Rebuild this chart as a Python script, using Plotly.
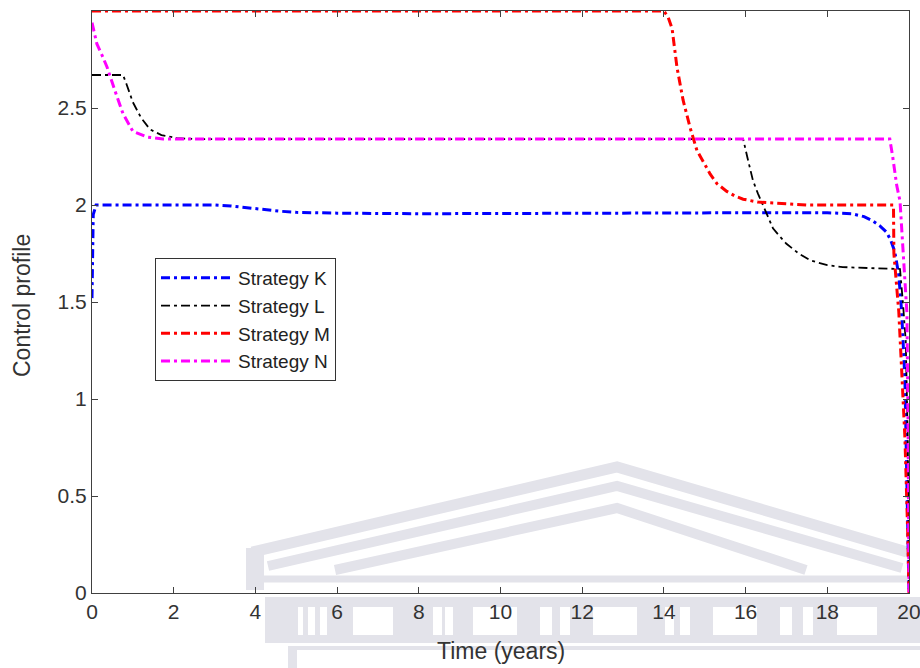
import plotly.graph_objects as go

# ---------------- data ----------------
x_K = [0, 0.03, 0.1, 1.0, 2.0, 3.0, 3.4, 3.8, 4.2, 4.6, 5.0, 6.0, 8.0, 10.0, 12.0, 14.0, 16.0, 18.0,
       18.6, 18.9, 19.1, 19.3, 19.45, 19.55, 19.65, 19.75, 19.82, 19.9, 19.95, 20.0]
y_K = [1.52, 1.95, 2.0, 2.0, 2.0, 2.0, 1.995, 1.985, 1.975, 1.968, 1.962, 1.958, 1.955, 1.957, 1.958,
       1.96, 1.96, 1.96, 1.955, 1.94, 1.92, 1.89, 1.86, 1.82, 1.76, 1.64, 1.45, 1.1, 0.6, 0.0]

x_L = [0, 0.76, 0.85, 1.0, 1.2, 1.42, 1.7, 2.08, 2.5, 3.0, 8.0, 15.94, 16.05, 16.18, 16.3, 16.43,
       16.55, 16.67, 16.83, 17.0, 17.3, 17.58, 18.0, 18.38, 19.0, 19.78, 19.85, 19.92, 19.97, 20.0]
y_L = [2.67, 2.67, 2.62, 2.53, 2.45, 2.39, 2.36, 2.345, 2.34, 2.34, 2.34, 2.34, 2.24, 2.126, 2.06, 2.0,
       1.94, 1.88, 1.84, 1.80, 1.75, 1.715, 1.69, 1.68, 1.675, 1.67, 1.5, 1.3, 0.8, 0.0]

x_M = [0, 14.0, 14.1, 14.2, 14.32, 14.47, 14.64, 14.81, 15.0, 15.13, 15.3, 15.54, 15.75, 15.94, 16.3,
       16.67, 17.5, 18.5, 19.62, 19.63, 19.75, 19.82, 19.9, 19.97, 20.0]
y_M = [3.0, 3.0, 2.97, 2.91, 2.71, 2.54, 2.40, 2.28, 2.21, 2.16, 2.11, 2.07, 2.045, 2.03, 2.015,
       2.01, 2.0, 2.0, 2.0, 1.75, 1.45, 1.15, 0.8, 0.3, 0.0]

x_N = [0, 0.12, 0.25, 0.37, 0.56, 0.76, 1.0, 1.35, 1.74, 2.2, 3.0, 10.0, 19.53, 19.6, 19.7, 19.78,
       19.85, 19.95, 19.98, 20.0]
y_N = [2.94, 2.83, 2.77, 2.71, 2.59, 2.47, 2.38, 2.35, 2.34, 2.34, 2.34, 2.34, 2.34, 2.25, 2.1, 2.02,
       1.78, 1.44, 0.8, 0.0]

series_names = ["Strategy K", "Strategy L", "Strategy M", "Strategy N"]
x_ticks = [0, 2, 4, 6, 8, 10, 12, 14, 16, 18, 20]
y_ticks = [0, 0.5, 1, 1.5, 2, 2.5]
y_tick_text = ["0", "0.5", "1", "1.5", "2", "2.5"]
x_title = "Time (years)"
y_title = "Control profile"

# ---------------- figure ----------------
W, H = 920, 668
L_, R_, T_, B_ = 92, 11, 11, 75
PW, PH = W - L_ - R_, H - T_ - B_

FONT = "Liberation Sans, Arial, sans-serif"
DASH = "9px,4px,3px,4px"

fig = go.Figure()
styles = [("#0000FF", 3.0), ("#000000", 1.8), ("#FF0000", 3.0), ("#FF00FF", 3.0)]
for (xs, ys), name, (col, w) in zip([(x_K, y_K), (x_L, y_L), (x_M, y_M), (x_N, y_N)], series_names, styles):
    fig.add_trace(go.Scatter(x=xs, y=ys, mode="lines", name=name,
                             line=dict(color=col, width=w, dash=DASH)))


def px(xp):
    return (xp - L_) / PW


def py(yp):
    return (H - B_ - yp) / PH


WM = "#e3e3ea"
shapes = []


def poly(points, width=8):
    d = "M " + " L ".join(f"{px(a):.5f},{py(b):.5f}" for a, b in points)
    shapes.append(dict(type="path", path=d, xref="paper", yref="paper", layer="below",
                       line=dict(color=WM, width=width)))


def rect(x0, y0, x1, y1, color=WM):
    shapes.append(dict(type="rect", xref="paper", yref="paper", layer="below",
                       x0=px(x0), x1=px(x1), y0=py(y1), y1=py(y0),
                       fillcolor=color, line=dict(width=0)))


# faint watermark (pediment)
poly([(252, 552), (617, 467), (907, 552)], 11)
poly([(268, 566), (617, 486), (902, 568)], 10)
poly([(335, 570), (617, 508), (806, 570)], 10)
poly([(262, 579), (907, 579)], 7)
rect(246, 548, 264, 590)
# faint watermark (band under axis)
rect(265, 597, 920, 643)
for a, b in [(298, 303), (308, 315), (320, 327), (353, 393), (433, 442), (445, 453), (473, 517),
             (540, 552), (560, 570), (593, 637), (665, 674), (680, 690), (713, 757), (780, 792),
             (803, 813), (837, 877)]:
    rect(a, 607, b, 635, "white")
rect(288, 646, 297, 668)
rect(297, 646, 920, 650)

annotations = [
    dict(text=x_title, xref="paper", yref="paper", x=px(501), y=py(651), xanchor="center",
         yanchor="middle", showarrow=False, font=dict(size=23, color="#333333", family=FONT)),
    dict(text=y_title, xref="paper", yref="paper", x=px(22), y=py(306), xanchor="center",
         yanchor="middle", showarrow=False, textangle=-90,
         font=dict(size=23, color="#333333", family=FONT)),
]

fig.update_layout(
    width=W, height=H,
    margin=dict(l=L_, r=R_, t=T_, b=B_, pad=0, autoexpand=False),
    paper_bgcolor="white", plot_bgcolor="white",
    font=dict(family=FONT, color="#333333"),
    shapes=shapes,
    annotations=annotations,
    showlegend=True,
    legend=dict(x=px(155), y=py(258), xanchor="left", yanchor="top",
                bgcolor="white", bordercolor="#333333", borderwidth=1,
                font=dict(size=19, color="#222222", family=FONT),
                itemwidth=72, tracegroupgap=0),
    xaxis=dict(range=[0, 20], tickvals=x_ticks, ticktext=[str(v) for v in x_ticks],
               automargin=False,
               showgrid=False, zeroline=False, showline=True, linecolor="#404040", linewidth=1,
               mirror="ticks", ticks="inside", ticklen=6, tickcolor="#404040",
               ticklabeloverflow="allow",
               tickfont=dict(size=21, color="#333333")),
    yaxis=dict(range=[0, 3], tickvals=y_ticks, ticktext=y_tick_text,
               automargin=False,
               showgrid=False, zeroline=False, showline=True, linecolor="#404040", linewidth=1,
               mirror="ticks", ticks="inside", ticklen=6, tickcolor="#404040",
               tickfont=dict(size=21, color="#333333")),
)

fig.write_html("out.html")
